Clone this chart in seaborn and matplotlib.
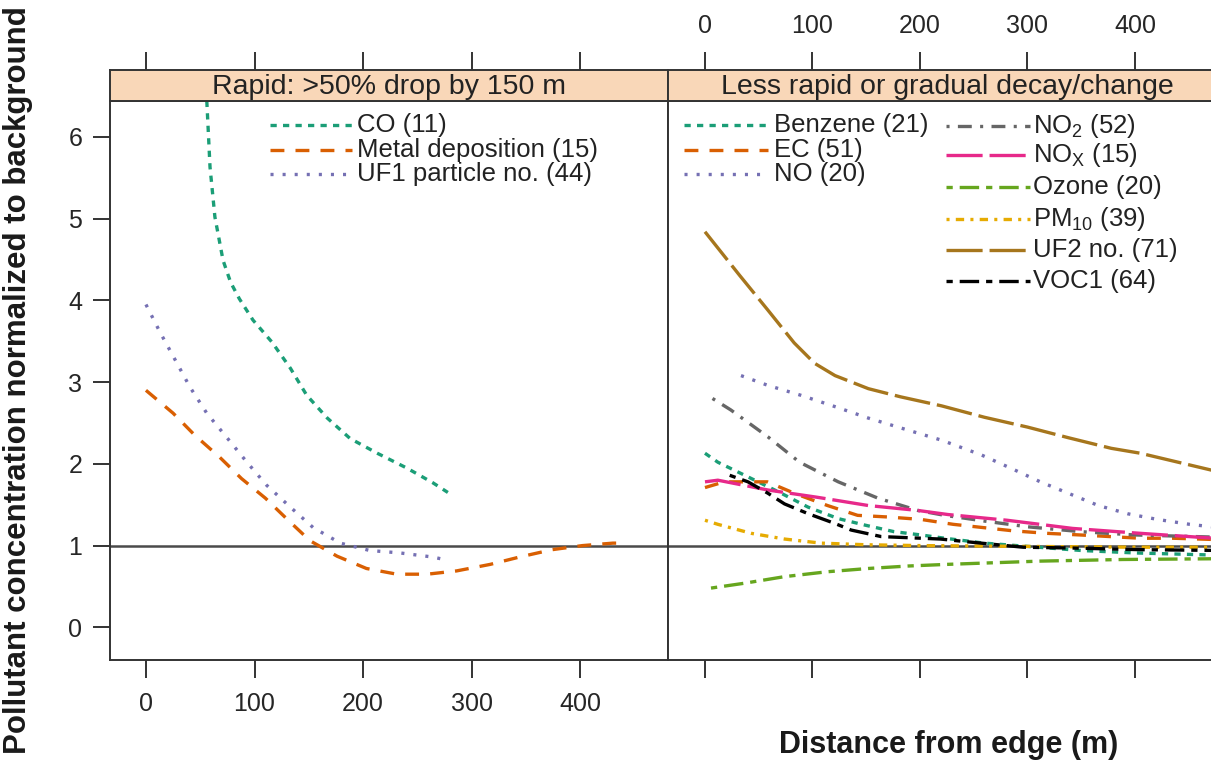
import matplotlib
matplotlib.use("Agg")
import matplotlib.pyplot as plt
import seaborn as sns
import pandas as pd

# ---------------- data ----------------
co_x = [53, 56, 59, 63.5, 71, 78, 86, 98.5, 116, 133, 148, 167, 188, 213, 240, 264, 278]
co_y = [6.9, 6.45, 5.63, 5.02, 4.49, 4.22, 4.02, 3.76, 3.49, 3.17, 2.84, 2.56, 2.31, 2.13, 1.95, 1.77, 1.65]
metal_x = [0, 25, 45, 68, 88, 110, 131, 151, 176, 203, 231, 259, 286, 317, 344, 374, 402, 430, 440]
metal_y = [2.90, 2.62, 2.35, 2.08, 1.82, 1.58, 1.31, 1.06, 0.87, 0.72, 0.65, 0.65, 0.69, 0.77, 0.86, 0.95, 1.00, 1.03, 1.03]
uf1_x = [0, 13, 27, 40.5, 56, 74, 93, 111, 133, 154, 179, 206, 234, 264, 278]
uf1_y = [3.95, 3.61, 3.27, 2.94, 2.62, 2.33, 2.02, 1.74, 1.47, 1.22, 1.03, 0.94, 0.91, 0.86, 0.82]

benzene_x = [0, 12, 37, 68, 96, 124, 149, 176, 201, 223, 260, 300, 350, 400, 485]
benzene_y = [2.13, 2.02, 1.86, 1.66, 1.47, 1.33, 1.25, 1.17, 1.13, 1.09, 1.03, 0.99, 0.94, 0.91, 0.88]
ec_x = [0, 18, 58, 85, 114, 142, 170, 201, 231, 259, 287, 318, 349, 377, 405, 435, 485]
ec_y = [1.71, 1.78, 1.78, 1.63, 1.49, 1.37, 1.35, 1.32, 1.26, 1.22, 1.18, 1.15, 1.13, 1.11, 1.09, 1.09, 1.07]
no_x = [33.5, 58.6, 89, 121, 152, 182, 220, 257, 284, 312, 338, 366, 393, 421, 451, 485]
no_y = [3.08, 2.96, 2.84, 2.70, 2.56, 2.44, 2.29, 2.11, 1.95, 1.78, 1.64, 1.49, 1.39, 1.32, 1.26, 1.21]
no2_x = [7, 24, 58.6, 88, 124, 161, 198, 223, 260, 300, 350, 400, 485]
no2_y = [2.80, 2.66, 2.33, 2.02, 1.78, 1.58, 1.43, 1.37, 1.30, 1.23, 1.17, 1.13, 1.10]
nox_x = [0, 12, 58.6, 105, 152, 198, 226, 281, 342, 405, 485]
nox_y = [1.78, 1.80, 1.68, 1.59, 1.49, 1.43, 1.38, 1.31, 1.21, 1.15, 1.08]
ozone_x = [5.6, 37, 74, 114, 152, 189, 225, 312, 389, 485]
ozone_y = [0.48, 0.54, 0.62, 0.68, 0.72, 0.75, 0.77, 0.81, 0.83, 0.84]
pm10_x = [0, 12, 43, 74, 108, 150, 200, 300, 400, 485]
pm10_y = [1.31, 1.26, 1.15, 1.08, 1.03, 1.01, 1.00, 0.99, 0.98, 0.98]
uf2_x = [0, 32, 58.6, 83, 102, 121, 152, 182, 220, 260, 300, 338, 378, 405, 485]
uf2_y = [4.84, 4.31, 3.88, 3.48, 3.23, 3.08, 2.92, 2.82, 2.71, 2.57, 2.45, 2.32, 2.19, 2.13, 1.88]
voc1_x = [23, 40, 58.6, 74, 96, 121, 136, 164, 201, 219, 249, 296, 342, 405, 485]
voc1_y = [1.86, 1.78, 1.64, 1.51, 1.39, 1.27, 1.19, 1.11, 1.09, 1.08, 1.04, 0.98, 0.97, 0.95, 0.94]

x_ticks = [0, 100, 200, 300, 400]
y_ticks = [0, 1, 2, 3, 4, 5, 6]
panel_titles = ["Rapid: >50% drop by 150 m", "Less rapid or gradual decay/change"]

# ---------------- style ----------------
sns.set_theme(style="white")
plt.rcParams["font.family"] = ["Liberation Sans", "DejaVu Sans"]
plt.rcParams["mathtext.default"] = "regular"
plt.rcParams["lines.scale_dashes"] = False

C_TEAL, C_ORANGE, C_PURPLE = "#1B9E77", "#D95F02", "#7570B3"
C_PINK, C_GREEN, C_YELLOW, C_BROWN, C_GRAY = "#E7298A", "#66A61E", "#E6AB02", "#A6761D", "#666666"

LS_SHORT = (0, (4.5, 4.5))
LS_DASH = (0, (10, 8))
LS_DOT = (0, (2.2, 6.5))
LS_DOTDASH = (0, (2.2, 6, 10, 6))
LS_LONG = (0, (26, 5))
LS_TWO = (0, (4.5, 5, 14, 5))
LS_PM = (0, (2.2, 4.5, 6, 4.5))

left_series = [
    ("CO (11)", co_x, co_y, C_TEAL, LS_SHORT),
    ("Metal deposition (15)", metal_x, metal_y, C_ORANGE, LS_DASH),
    ("UF1 particle no. (44)", uf1_x, uf1_y, C_PURPLE, LS_DOT),
]
right_series = [
    ("Benzene (21)", benzene_x, benzene_y, C_TEAL, LS_SHORT),
    ("EC (51)", ec_x, ec_y, C_ORANGE, LS_DASH),
    ("NO (20)", no_x, no_y, C_PURPLE, LS_DOT),
    ("NO$_2$ (52)", no2_x, no2_y, C_GRAY, LS_DOTDASH),
    ("NO$_X$ (15)", nox_x, nox_y, C_PINK, LS_LONG),
    ("Ozone (20)", ozone_x, ozone_y, C_GREEN, LS_TWO),
    ("PM$_{10}$ (39)", pm10_x, pm10_y, C_YELLOW, LS_PM),
    ("UF2 no. (71)", uf2_x, uf2_y, C_BROWN, LS_LONG),
    ("VOC1 (64)", voc1_x, voc1_y, "black", LS_TWO),
]

W, H = 1211, 764
fig = plt.figure(figsize=(W / 100, H / 100), dpi=100)
fig.patch.set_facecolor("white")

PX_TOP, PX_BOT = 101, 660
PX_STRIP = 70
PW = 558
def fr_axes(x0):
    return [x0 / W, 1 - PX_BOT / H, PW / W, (PX_BOT - PX_TOP) / H]
def fr_strip(x0):
    return [x0 / W, 1 - PX_TOP / H, PW / W, (PX_TOP - PX_STRIP) / H]

LW = 2.4
FS_TICK = 18
FS_LEG = 18.5
FS_STRIP = 20.5
FS_YLAB = 22.5
FS_XLAB = 22

panels = [
    (110, (-33.1, 480.7), left_series, panel_titles[0]),
    (668, (-34.4, 484.7), right_series, panel_titles[1]),
]

axes = []
for i, (x0, xlim, series, title) in enumerate(panels):
    ax = fig.add_axes(fr_axes(x0))
    for label, xs, ys, col, ls in series:
        df = pd.DataFrame({"distance": xs, "value": ys})
        sns.lineplot(data=df, x="distance", y="value", ax=ax, color=col,
                     linewidth=LW, linestyle=ls, estimator=None, legend=False)
    ax.axhline(1, color="#4a4a4a", lw=1.8, zorder=0.5)
    ax.set_xlim(*xlim)
    ax.set_ylim(-0.40, 6.44)
    ax.set_xlabel("")
    ax.set_ylabel("")
    ax.set_xticks(x_ticks)
    ax.set_yticks(y_ticks)
    ax.tick_params(axis="x", direction="out", length=13, width=1.4, color="#333333",
                   labelsize=FS_TICK, pad=10, bottom=True, labelbottom=(i == 0), top=False)
    if i == 0:
        ax.tick_params(axis="y", direction="out", length=12, width=1.4, color="#333333",
                       labelsize=FS_TICK, pad=8, left=True, labelleft=True)
    else:
        ax.tick_params(axis="y", left=False, labelleft=False)
    for sp in ax.spines.values():
        sp.set_color("#333333")
        sp.set_linewidth(1.4)
    ax.set_facecolor("white")

    st = fig.add_axes(fr_strip(x0), sharex=ax)
    st.set_facecolor("#F9D7B8")
    st.set_yticks([])
    st.xaxis.tick_top()
    st.tick_params(axis="x", direction="out", length=13, width=1.4, color="#333333",
                   labelsize=FS_TICK, pad=10, top=True, labeltop=(i == 1),
                   bottom=False, labelbottom=False)
    for sp in st.spines.values():
        sp.set_color("#333333")
        sp.set_linewidth(1.4)
    st.text(0.5, 0.45, title, transform=st.transAxes, ha="center", va="center",
            fontsize=FS_STRIP, color="#222222")
    axes.append((ax, x0))

# ---------------- legends ----------------
def legend_item(ax, ax_x0, px0, px1, pxt, py, label, col, ls):
    fx = lambda p: (p - ax_x0) / PW
    y = 1 - (py - PX_TOP) / (PX_BOT - PX_TOP)
    ax.plot([fx(px0), fx(px1)], [y, y], transform=ax.transAxes, color=col,
            lw=LW, linestyle=ls, clip_on=False)
    ax.text(fx(pxt), y, label, transform=ax.transAxes, ha="left", va="center",
            fontsize=FS_LEG, color="#222222")

axL, xL = axes[0]
for (label, xs, ys, col, ls), py in zip(left_series, [125, 150, 174]):
    legend_item(axL, xL, 270, 352, 357, py, label, col, ls)

axR, xR = axes[1]
for (label, xs, ys, col, ls), py in zip(right_series[:3], [125, 150, 174]):
    legend_item(axR, xR, 684, 768, 774, py, label, col, ls)
for (label, xs, ys, col, ls), py in zip(right_series[3:], [126, 155, 187, 219, 250, 281]):
    legend_item(axR, xR, 946, 1030, 1033, py, label, col, ls)

# ---------------- axis labels ----------------
fig.text(18 / W, 1 - 380 / H, "Pollutant concentration normalized to background", rotation=90,
         ha="center", va="center", fontsize=FS_YLAB, fontweight="bold", color="#1a1a1a")
fig.text(949 / W, 1 - 745 / H, "Distance from edge (m)", ha="center", va="center",
         fontsize=FS_XLAB, fontweight="bold", color="#1a1a1a")

fig.savefig("out.png", dpi=100, facecolor="white")
